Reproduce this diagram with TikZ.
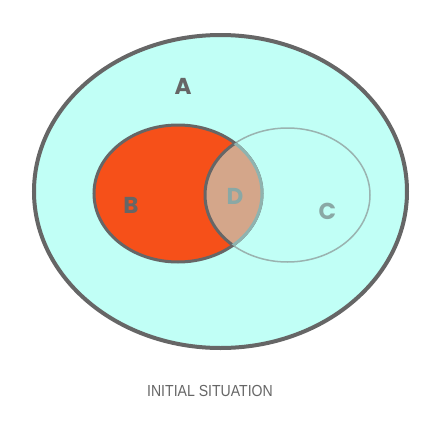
\documentclass[tikz,border=0pt]{standalone}
\usepackage{fontspec}
\setmainfont{Poppins}
\newfontfamily\labelfont{Liberation Sans}
\definecolor{aqua}{HTML}{C1FFF6}
\definecolor{ringgray}{HTML}{666666}
\definecolor{borange}{HTML}{F65019}
\definecolor{lens}{HTML}{D4A68A}
\definecolor{cedge}{HTML}{9AB3B0}
\definecolor{dedge}{HTML}{8FB3AF}
\definecolor{ctext}{HTML}{8AA8A5}
\tikzset{
  setlabel/.style={font=\bfseries\fontsize{23}{23}\selectfont, inner sep=0pt},
}
\begin{document}
\begin{tikzpicture}[x=1pt,y=-1pt]
\useasboundingbox (0,0) rectangle (448,421);
\def\Bpath{(178,193.5) ellipse [x radius=84, y radius=68.5]}
\def\Cpath{(287.5,195) ellipse [x radius=82.5, y radius=67]}
% A
\draw[fill=aqua, draw=ringgray, line width=4pt] (220.5,191.5) ellipse [x radius=186.5, y radius=156.5];
% B
\fill[borange] \Bpath;
% C outline (thin)
\draw[cedge, line width=1.5pt] \Cpath;
% B outline
\draw[ringgray, line width=3pt] \Bpath;
% lens D
\begin{scope}
  \clip \Bpath;
  \fill[lens] \Cpath;
  \draw[ringgray, line width=3pt] \Cpath;
\end{scope}
\begin{scope}
  \clip \Cpath;
  \draw[dedge, line width=3pt] \Bpath;
\end{scope}
% labels
\node[setlabel, text=ringgray] (la) at (183,86.5) {A};
\node[setlabel, text=ringgray] (lb) at (131,205) {B};
\node[setlabel, text=ctext] (ld) at (235,196) {D};
\node[setlabel, text=ctext] (lc) at (327.5,211.5) {C};
\node[inner sep=0pt, text=ringgray, font=\labelfont\fontsize{16}{16}\selectfont, xscale=0.88] (cap) at (210,391) {INITIAL SITUATION};
\end{tikzpicture}
\end{document}
